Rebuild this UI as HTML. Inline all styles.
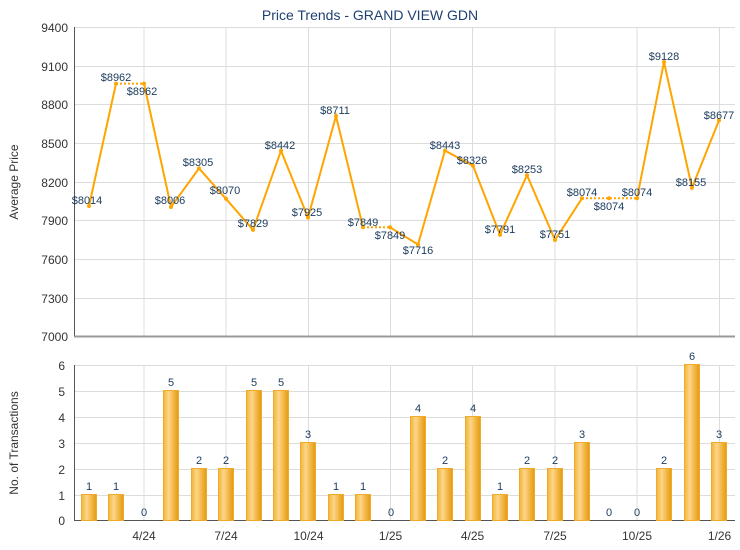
<!DOCTYPE html>
<html><head><meta charset="utf-8"><style>
body{margin:0;background:#fff;}
svg{display:block;font-family:"Liberation Sans","Noto Sans CJK SC",sans-serif;}
</style></head><body>
<svg width="740" height="550" viewBox="0 0 740 550" xmlns="http://www.w3.org/2000/svg">
<defs>
<linearGradient id="bg" x1="0" x2="1" y1="0" y2="0">
<stop offset="0" stop-color="#f2b53a"/><stop offset="0.35" stop-color="#fdd68a"/><stop offset="0.7" stop-color="#f2b440"/><stop offset="1" stop-color="#e29a12"/>
</linearGradient>
</defs>
<rect width="740" height="550" fill="#fff"/>
<text x="370" y="20" text-anchor="middle" font-size="14" fill="#1f3f73">Price Trends - GRAND VIEW GDN</text>
<g id="grid" stroke="#dcdcdc" stroke-width="1">
<line x1="75" x2="735" y1="27.5" y2="27.5"/><line x1="75" x2="735" y1="66.5" y2="66.5"/><line x1="75" x2="735" y1="104.5" y2="104.5"/><line x1="75" x2="735" y1="143.5" y2="143.5"/><line x1="75" x2="735" y1="182.5" y2="182.5"/><line x1="75" x2="735" y1="220.5" y2="220.5"/><line x1="75" x2="735" y1="259.5" y2="259.5"/><line x1="75" x2="735" y1="298.5" y2="298.5"/>
<line x1="75" x2="735" y1="365.5" y2="365.5"/><line x1="75" x2="735" y1="391.5" y2="391.5"/><line x1="75" x2="735" y1="417.5" y2="417.5"/><line x1="75" x2="735" y1="443.5" y2="443.5"/><line x1="75" x2="735" y1="469.5" y2="469.5"/><line x1="75" x2="735" y1="495.5" y2="495.5"/>
<line x1="144" x2="144" y1="27" y2="337"/><line x1="226" x2="226" y1="27" y2="337"/><line x1="308.5" x2="308.5" y1="27" y2="337"/><line x1="390.5" x2="390.5" y1="27" y2="337"/><line x1="472.5" x2="472.5" y1="27" y2="337"/><line x1="555" x2="555" y1="27" y2="337"/><line x1="637" x2="637" y1="27" y2="337"/><line x1="719.5" x2="719.5" y1="27" y2="337"/>
<line x1="144" x2="144" y1="365" y2="521"/><line x1="226" x2="226" y1="365" y2="521"/><line x1="308.5" x2="308.5" y1="365" y2="521"/><line x1="390.5" x2="390.5" y1="365" y2="521"/><line x1="472.5" x2="472.5" y1="365" y2="521"/><line x1="555" x2="555" y1="365" y2="521"/><line x1="637" x2="637" y1="365" y2="521"/><line x1="719.5" x2="719.5" y1="365" y2="521"/>
</g>
<g stroke="#555" stroke-width="1">
<line x1="74.5" x2="74.5" y1="27" y2="337"/>
<line x1="74.5" x2="74.5" y1="365" y2="521"/>
<line x1="74" x2="735" y1="520.5" y2="520.5"/>
</g>
<line x1="74" x2="735" y1="336.5" y2="336.5" stroke="#999" stroke-width="2"/>
<g font-size="12" fill="#333" text-anchor="end">
<text x="68" y="32">9400</text><text x="68" y="71">9100</text><text x="68" y="109">8800</text><text x="68" y="148">8500</text><text x="68" y="187">8200</text><text x="68" y="225">7900</text><text x="68" y="264">7600</text><text x="68" y="303">7300</text><text x="68" y="341">7000</text>
<text x="65" y="370">6</text><text x="65" y="396">5</text><text x="65" y="422">4</text><text x="65" y="448">3</text><text x="65" y="474">2</text><text x="65" y="500">1</text><text x="65" y="525">0</text>
</g>
<g font-size="12" fill="#333" text-anchor="middle">
<text x="144" y="540">4/24</text><text x="226" y="540">7/24</text><text x="308.5" y="540">10/24</text><text x="390.5" y="540">1/25</text><text x="472.5" y="540">4/25</text><text x="555" y="540">7/25</text><text x="637" y="540">10/25</text><text x="719.5" y="540">1/26</text>
</g>
<text transform="translate(18,182) rotate(-90)" font-size="12" fill="#333" text-anchor="middle">Average Price</text>
<text transform="translate(18,443) rotate(-90)" font-size="12" fill="#333" text-anchor="middle">No. of Transactions</text>
<g fill="url(#bg)" stroke="#f0ac28" stroke-width="1">
<rect x="81.5" y="494.5" width="15" height="26"/>
<rect x="108.5" y="494.5" width="15" height="26"/>
<rect x="163.5" y="390.5" width="15" height="130"/>
<rect x="191.5" y="468.5" width="15" height="52"/>
<rect x="218.5" y="468.5" width="15" height="52"/>
<rect x="246.5" y="390.5" width="15" height="130"/>
<rect x="273.5" y="390.5" width="15" height="130"/>
<rect x="300.5" y="442.5" width="15" height="78"/>
<rect x="328.5" y="494.5" width="15" height="26"/>
<rect x="355.5" y="494.5" width="15" height="26"/>
<rect x="410.5" y="416.5" width="15" height="104"/>
<rect x="437.5" y="468.5" width="15" height="52"/>
<rect x="465.5" y="416.5" width="15" height="104"/>
<rect x="492.5" y="494.5" width="15" height="26"/>
<rect x="519.5" y="468.5" width="15" height="52"/>
<rect x="547.5" y="468.5" width="15" height="52"/>
<rect x="574.5" y="442.5" width="15" height="78"/>
<rect x="656.5" y="468.5" width="15" height="52"/>
<rect x="684.5" y="364.5" width="15" height="156"/>
<rect x="711.5" y="442.5" width="15" height="78"/>
</g>
<g font-size="11" fill="#1a3a5c" text-anchor="middle">
<text x="89" y="490">1</text><text x="116" y="490">1</text><text x="144" y="516">0</text><text x="171" y="386">5</text><text x="199" y="464">2</text><text x="226" y="464">2</text><text x="254" y="386">5</text><text x="281" y="386">5</text><text x="308" y="438">3</text><text x="336" y="490">1</text><text x="363" y="490">1</text><text x="391" y="516">0</text><text x="418" y="412">4</text><text x="445" y="464">2</text><text x="473" y="412">4</text><text x="500" y="490">1</text><text x="527" y="464">2</text><text x="555" y="464">2</text><text x="582" y="438">3</text><text x="609" y="516">0</text><text x="637" y="516">0</text><text x="664" y="464">2</text><text x="692" y="360">6</text><text x="719" y="438">3</text>
</g>
<g fill="none" stroke="#ffa500" stroke-width="2">
<polyline points="89,206 116,83.6"/>
<polyline points="116,83.6 144,83.6" stroke-dasharray="2,2"/>
<polyline points="144,83.6 171,207 199,168.4 226,198.8 253,229.9 281,150.7 308,217.5 336,116 363,227.3"/>
<polyline points="363,227.3 390,227.3" stroke-dasharray="2,2"/>
<polyline points="390,227.3 418,244.5 445,150.6 473,165.7 500,234.8 527,175.2 555,240 582,198.3"/>
<polyline points="582,198.3 637,198.3" stroke-dasharray="2,2"/>
<polyline points="637,198.3 664,62.1 692,187.8 719,120.4"/>
</g>
<g fill="#ffa500">
<circle cx="89" cy="206" r="2"/><circle cx="116" cy="83.6" r="2"/><circle cx="144" cy="83.6" r="2"/><circle cx="171" cy="207" r="2"/><circle cx="199" cy="168.4" r="2"/><circle cx="226" cy="198.8" r="2"/><circle cx="253" cy="229.9" r="2"/><circle cx="281" cy="150.7" r="2"/><circle cx="308" cy="217.5" r="2"/><circle cx="336" cy="116" r="2"/><circle cx="363" cy="227.3" r="2"/><circle cx="390" cy="227.3" r="2"/><circle cx="418" cy="244.5" r="2"/><circle cx="445" cy="150.6" r="2"/><circle cx="473" cy="165.7" r="2"/><circle cx="500" cy="234.8" r="2"/><circle cx="527" cy="175.2" r="2"/><circle cx="555" cy="240" r="2"/><circle cx="582" cy="198.3" r="2"/><circle cx="609" cy="198.3" r="2"/><circle cx="637" cy="198.3" r="2"/><circle cx="664" cy="62.1" r="2"/><circle cx="692" cy="187.8" r="2"/><circle cx="719" cy="120.4" r="2"/>
</g>
<g font-size="11" fill="#1a3a5c" text-anchor="middle">
<text x="87" y="204">$8014</text><text x="116" y="81">$8962</text><text x="142" y="95">$8962</text><text x="170" y="204">$8006</text><text x="198" y="166">$8305</text><text x="225" y="194">$8070</text><text x="253" y="227">$7829</text><text x="280" y="149">$8442</text><text x="307" y="216">$7925</text><text x="335" y="114">$8711</text><text x="363" y="226">$7849</text><text x="390" y="239">$7849</text><text x="418" y="254">$7716</text><text x="445" y="149">$8443</text><text x="472" y="164">$8326</text><text x="500" y="233">$7791</text><text x="527" y="173">$8253</text><text x="555" y="238">$7751</text><text x="582" y="196">$8074</text><text x="609" y="210">$8074</text><text x="637" y="196">$8074</text><text x="664" y="60">$9128</text><text x="691" y="186">$8155</text><text x="719" y="119">$8677</text>
</g>
</svg>
</body></html>
